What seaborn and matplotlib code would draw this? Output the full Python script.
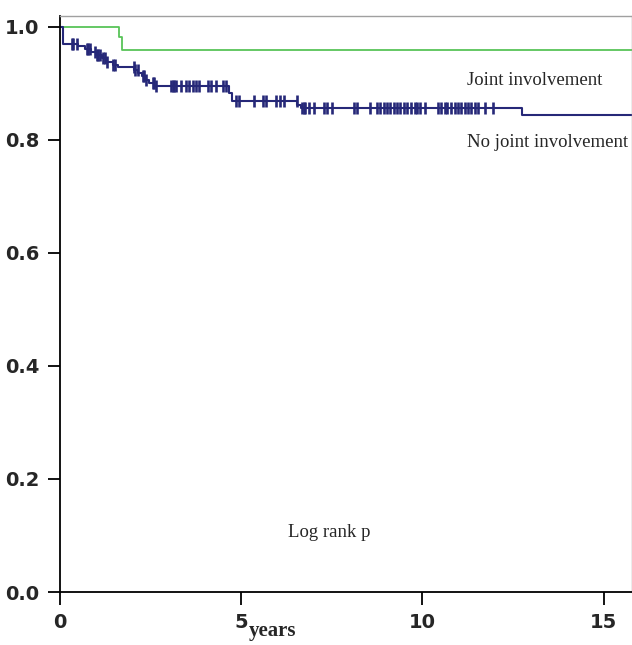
import matplotlib
matplotlib.use('Agg')
import matplotlib.pyplot as plt
import seaborn as sns
import numpy as np
import pandas as pd

# Kaplan-Meier steps
no_joint_time = [0, 0.08, 0.5, 0.7, 0.85, 1.0, 1.15, 1.3, 1.45, 1.6, 2.05, 2.15,
                 2.25, 2.35, 2.45, 2.6, 4.65, 4.75, 6.55, 6.65, 12.75, 16.0]
no_joint_surv = [1.0, 0.970, 0.966, 0.961, 0.956, 0.950, 0.944, 0.938, 0.933, 0.929,
                 0.924, 0.918, 0.912, 0.906, 0.900, 0.895, 0.882, 0.869, 0.862, 0.856,
                 0.843, 0.843]

joint_time = [0, 1.64, 1.71, 16.0]
joint_surv = [1.0, 0.981, 0.959, 0.959]

# censored observations (years), no joint involvement
no_joint_censor = [0.33, 0.36, 0.47, 0.75, 0.78, 0.83, 0.97, 1.03, 1.06, 1.11, 1.19, 1.25,
                   1.31, 1.47, 1.53, 2.03, 2.08, 2.14, 2.28, 2.31, 2.36, 2.56, 2.58, 2.64,
                   3.06, 3.11, 3.14, 3.19, 3.33, 3.47, 3.56, 3.67, 3.75, 3.83, 4.08, 4.17,
                   4.31, 4.5, 4.58, 4.86, 4.94, 5.36, 5.61, 5.69, 5.97, 6.06, 6.19, 6.53,
                   6.67, 6.72, 6.75, 6.86, 7.0, 7.28, 7.36, 7.5, 8.11, 8.19, 8.56, 8.75,
                   8.83, 8.94, 9.03, 9.11, 9.22, 9.31, 9.39, 9.5, 9.58, 9.67, 9.78, 9.86,
                   9.92, 10.08, 10.42, 10.5, 10.61, 10.69, 10.78, 10.89, 10.97, 11.06,
                   11.17, 11.25, 11.33, 11.44, 11.53, 11.72, 11.94]

x_ticks = [0, 5, 10, 15]
y_ticks = [0.0, 0.2, 0.4, 0.6, 0.8, 1.0]

blue = '#262878'
green = '#58c458'

sns.set_style('ticks')
plt.rcParams['font.family'] = ['DejaVu Sans']

fig = plt.figure(figsize=(6.32, 6.45), dpi=100)
ax = fig.add_axes([60 / 632, 53 / 645, 572 / 632, 576 / 645])

sns.lineplot(x=joint_time, y=joint_surv, drawstyle='steps-post', color=green,
             linewidth=1.3, estimator=None, ax=ax)
sns.lineplot(x=no_joint_time, y=no_joint_surv, drawstyle='steps-post', color=blue,
             linewidth=1.5, estimator=None, ax=ax)

idx = np.searchsorted(no_joint_time, no_joint_censor, side='right') - 1
censor_df = pd.DataFrame({'t': no_joint_censor,
                          's': np.array(no_joint_surv)[idx]})
sns.scatterplot(data=censor_df, x='t', y='s', marker='|', s=80, linewidth=1.9,
                color=blue, ax=ax)

ax.set_xlim(0, 15.78)
ax.set_ylim(0, 1.019)
ax.set_xticks(x_ticks)
ax.set_xticklabels([str(v) for v in x_ticks])
ax.set_yticks(y_ticks)
ax.set_yticklabels([f'{v:.1f}' for v in y_ticks])
ax.tick_params(axis='both', direction='out', length=9, width=1.3, color='black',
               labelsize=14)
ax.tick_params(axis='x', pad=6)
ax.tick_params(axis='y', pad=6)
for lab in ax.get_xticklabels() + ax.get_yticklabels():
    lab.set_fontweight('bold')

for side in ['left', 'bottom']:
    ax.spines[side].set_color('black')
    ax.spines[side].set_linewidth(1.3)
for side in ['top', 'right']:
    ax.spines[side].set_visible(True)
    ax.spines[side].set_color('#a0a0a0')
    ax.spines[side].set_linewidth(1.0)

ax.set_xlabel('')
ax.set_ylabel('')

serif = ['Liberation Serif', 'DejaVu Serif']
ax.text(11.23, 0.897, 'Joint involvement', family=serif, fontsize=13.5,
        va='baseline', ha='left')
ax.text(11.23, 0.787, 'No joint involvement', family=serif, fontsize=13.5,
        va='baseline', ha='left')
ax.text(6.3, 0.097, 'Log rank p', family=serif, fontsize=13.5,
        va='baseline', ha='left')
ax.text(0.372, -0.077, 'years', family=serif, fontsize=15, fontweight='bold',
        va='baseline', ha='center', transform=ax.transAxes, clip_on=False)

plt.savefig('out.png', dpi=100)
